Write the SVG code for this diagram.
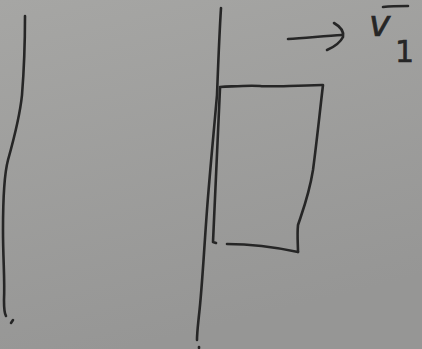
<svg xmlns="http://www.w3.org/2000/svg" width="422" height="349" viewBox="0 0 422 349">
<defs>
<linearGradient id="paper" x1="0" y1="0" x2="0.3" y2="1">
<stop offset="0" stop-color="#a6a6a4"/>
<stop offset="1" stop-color="#969695"/>
</linearGradient>
<style>
.ink{fill:none;stroke:#262626;stroke-width:2.6;stroke-linecap:round;stroke-linejoin:round}
.hand{font-family:"DejaVu Sans",sans-serif;fill:#262626}
</style>
</defs>
<rect width="422" height="349" fill="url(#paper)"/>
<g id="wall-left">
<path class="ink" d="M25,16 C25,40 24,70 22,95 C20,115 15,135 8,160 C4,175 3,195 3,230 C3,260 5,280 4,300 C4,308 4,313 6,316"/>
<path class="ink" d="M11,323 L13,320"/>
</g>
<g id="wall-right">
<path class="ink" d="M221,8 C219,40 218,70 217,95 C214,130 210,170 207,210 C204,250 202,290 199,315 C198,325 197,333 197,340"/>
<path class="ink" d="M199,347 L199,348"/>
</g>
<g id="block">
<path class="ink" d="M220,88 C218,140 215,190 213,242 L216,243"/>
<path class="ink" d="M220,87 C240,86 250,85 260,86 C270,87 280,86 322,85"/>
<path class="ink" d="M323,85 C320,110 317,140 313,170 C309,195 303,210 298,225 C297,235 298,245 298,252"/>
<path class="ink" d="M227,244 C250,244 270,246 298,252"/>
</g>
<g id="connectors">
<path class="ink" d="M288,39 C305,38 325,36 342,35"/>
<path class="ink" d="M334,23 C341,27 344,32 343,37 C340,43 334,47 327,50"/>
</g>
<g id="label-v1">
<text class="hand" x="369" y="36" font-size="36" font-style="italic" stroke="#262626" stroke-width="0.6">v</text>
<path class="ink" d="M383,7 C392,6 400,6 408,6"/>
<text class="hand" x="395" y="62" font-size="30" stroke="#262626" stroke-width="0.6">1</text>
</g>
</svg>
